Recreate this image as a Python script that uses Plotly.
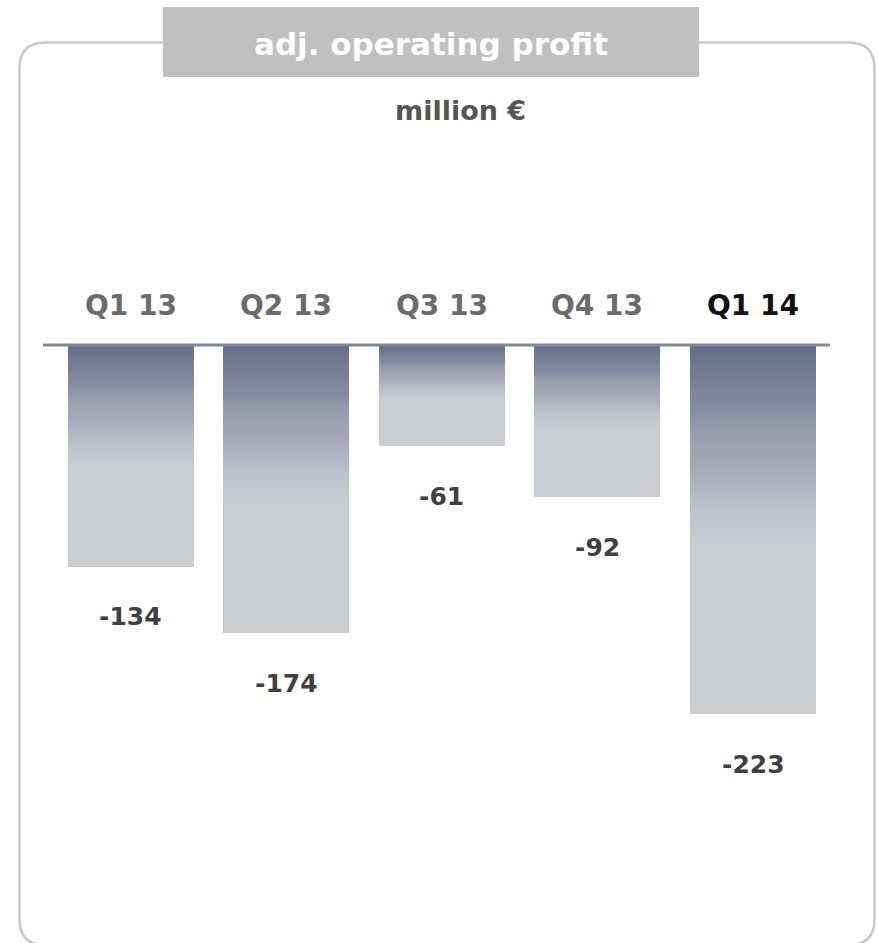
import plotly.graph_objects as go

# Quarterly adjusted operating profit, million EUR
quarters = ["Q1 13", "Q2 13", "Q3 13", "Q4 13", "Q1 14"]
profit = [-134, -174, -61, -92, -223]
label_colors = ["#6b6b6b", "#6b6b6b", "#6b6b6b", "#6b6b6b", "#111111"]

title_text = "adj. operating profit"
unit_text = "million €"

W, H = 879, 943
FONT = "DejaVu Sans"


def px(x):
    return x / W


def py(y):
    return 1 - y / H


fig = go.Figure()

# light grey base of every bar
fig.add_trace(go.Bar(
    x=quarters, y=profit, width=0.81,
    marker=dict(color="#c9ccd0", line=dict(width=0)),
    hoverinfo="skip", showlegend=False,
))

# blue-grey shading fading from the zero line down into the bar
N = 60
depth = 0.55          # share of each bar covered by the fade
top_opacity = 0.86
base_rgb = (100, 116, 145)


def opacity_at(t):
    # smooth ease-out so the fade ends without a visible edge
    return top_opacity * (1 - t) ** 1.5


# layer k (1..N) reaches depth*k/N; a point between layers k-1 and k is
# covered by layers k..N, whose combined opacity should equal opacity_at
keeps = [1 - opacity_at((k - 0.5) / N) for k in range(1, N + 1)]
for k in range(1, N + 1):
    outer = keeps[k] if k < N else 1.0
    a = 1 - keeps[k - 1] / outer
    frac = depth * k / N
    fig.add_trace(go.Bar(
        x=quarters, y=[v * frac for v in profit], width=0.81,
        marker=dict(color=f"rgba({base_rgb[0]},{base_rgb[1]},{base_rgb[2]},{a:.4f})",
                    line=dict(width=0)),
        hoverinfo="skip", showlegend=False,
    ))

shapes = []
# rounded frame
L, R, T, B, r = 19.5, 874.5, 42.5, 945, 26
path = (f"M {px(L)},{py(T + r)} "
        f"Q {px(L)},{py(T)} {px(L + r)},{py(T)} "
        f"L {px(R - r)},{py(T)} "
        f"Q {px(R)},{py(T)} {px(R)},{py(T + r)} "
        f"L {px(R)},{py(B - r)} "
        f"Q {px(R)},{py(B)} {px(R - r)},{py(B)} "
        f"L {px(L + r)},{py(B)} "
        f"Q {px(L)},{py(B)} {px(L)},{py(B - r)} Z")
shapes.append(dict(type="path", xref="paper", yref="paper", path=path,
                   line=dict(color="#c8c8c8", width=2.5), fillcolor="rgba(0,0,0,0)",
                   layer="below"))
# title plate
shapes.append(dict(type="rect", xref="paper", yref="paper",
                   x0=px(163), x1=px(699), y0=py(77), y1=py(7),
                   line=dict(width=0), fillcolor="#c0c0c0", layer="above"))
# zero line
shapes.append(dict(type="line", xref="paper", yref="y",
                   x0=px(43), x1=px(830), y0=0, y1=0,
                   line=dict(color="#7c89a2", width=3), layer="above"))

annotations = [
    dict(text=title_text, xref="paper", yref="paper", x=px(431), y=py(44),
         showarrow=False, xanchor="center", yanchor="middle",
         font=dict(family=FONT, size=31, color="white", weight="bold")),
    dict(text=unit_text, xref="paper", yref="paper", x=px(460), y=py(111),
         showarrow=False, xanchor="center", yanchor="middle",
         font=dict(family=FONT, size=27, color="#555555", weight="bold")),
]
for q, v, c in zip(quarters, profit, label_colors):
    annotations.append(dict(
        text=q, x=q, y=0, xref="x", yref="y", yshift=40,
        showarrow=False, xanchor="center", yanchor="middle",
        font=dict(family=FONT, size=28, color=c, weight="bold")))
    annotations.append(dict(
        text=f"{v}", x=q, y=v, xref="x", yref="y", yshift=-50,
        showarrow=False, xanchor="center", yanchor="middle",
        font=dict(family=FONT, size=25, color="#404040", weight="bold")))

fig.update_layout(
    width=W, height=H,
    margin=dict(l=0, r=0, t=0, b=0),
    paper_bgcolor="white", plot_bgcolor="white",
    barmode="overlay", bargap=0,
    showlegend=False,
    xaxis=dict(type="category", range=[-0.565, 4.495], domain=[px(43), px(830)],
               visible=False, fixedrange=True),
    yaxis=dict(range=[-361.3, 208.5], domain=[0, 1], visible=False,
               zeroline=False, showgrid=False, fixedrange=True),
    shapes=shapes,
    annotations=annotations,
)

fig.write_html("out.html")
